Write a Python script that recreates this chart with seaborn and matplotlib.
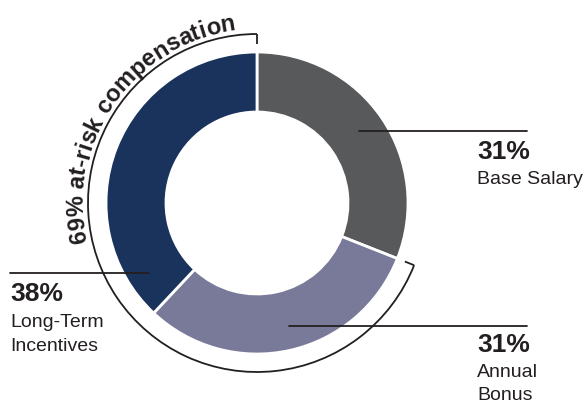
import numpy as np
import matplotlib
matplotlib.use("Agg")
import matplotlib.pyplot as plt
from matplotlib.patches import Arc
import seaborn as sns

# ---- data ----
categories = ["Base Salary", "Annual Bonus", "Long-Term Incentives"]
shares = [31, 31, 38]
pct_labels = ["31%", "31%", "38%"]
name_labels = ["Base Salary", "Annual\nBonus", "Long-Term\nIncentives"]
at_risk_label = "69% at-risk compensation"
colors = ["#58595B", "#797A99", "#1A335D"]

sns.set_theme(style="white")
plt.rcParams["font.family"] = ["Liberation Sans", "DejaVu Sans"]

W, H = 588, 405
fig = plt.figure(figsize=(W / 100, H / 100), dpi=100)
ax = fig.add_axes([0, 0, 1, 1])

cx, cy = 257, H - 203
R, r_in = 151, 91

ax.pie(shares, colors=colors, startangle=90, counterclock=False,
       radius=R, center=(cx, cy),
       wedgeprops=dict(width=R - r_in, edgecolor="white", linewidth=2))
ax.set_xlim(0, W)
ax.set_ylim(0, H)
ax.set_aspect("auto")
ax.axis("off")

ink = "#231F20"

# ---- bracket for at-risk share ----
at_risk = shares[1] + shares[2]
Rb = 169
t1 = 90
t2 = 90 + at_risk / 100 * 360
ax.add_patch(Arc((cx, cy), 2 * Rb, 2 * Rb, theta1=t1, theta2=t2,
                 color=ink, lw=1.3))
for th in (t1, t2):
    a = np.deg2rad(th)
    ax.plot([cx + Rb * np.cos(a), cx + (Rb - 10) * np.cos(a)],
            [cy + Rb * np.sin(a), cy + (Rb - 10) * np.sin(a)],
            color=ink, lw=1.3, solid_capstyle="butt")

# ---- curved text ----
fig.canvas.draw()
renderer = fig.canvas.get_renderer()
fs_curve = 17
def text_w(s):
    if not s:
        return 0.0
    t = ax.text(0, 0, s, fontsize=fs_curve, fontweight="bold")
    w = t.get_window_extent(renderer).width
    t.remove()
    return w

rt = 174
total = text_w(at_risk_label)
center_ang = np.deg2rad(145)
start_ang = center_ang + total / 2 / rt
for i, ch in enumerate(at_risk_label):
    s0 = text_w(at_risk_label[:i])
    s1 = text_w(at_risk_label[:i + 1])
    mid = (s0 + s1) / 2
    a = start_ang - mid / rt
    ax.text(cx + rt * np.cos(a), cy + rt * np.sin(a), ch,
            fontsize=fs_curve, fontweight="bold", color=ink,
            ha="center", va="baseline",
            rotation=np.rad2deg(a) - 90, rotation_mode="anchor")

# ---- leader lines and labels ----
fs_pct, fs_name = 19, 14
# Base Salary
ax.plot([359, 527], [H - 131, H - 131], color=ink, lw=1.3)
ax.text(477, H - 159, pct_labels[0], fontsize=fs_pct, fontweight="bold",
        color=ink, ha="left", va="baseline")
ax.text(477, H - 184, name_labels[0], fontsize=fs_name, color=ink,
        ha="left", va="baseline")
# Annual Bonus
ax.plot([289, 527], [H - 326, H - 326], color=ink, lw=1.3)
ax.text(477, H - 352, pct_labels[1], fontsize=fs_pct, fontweight="bold",
        color=ink, ha="left", va="baseline")
for j, line in enumerate(name_labels[1].split("\n")):
    ax.text(477, H - 377 - 23 * j, line, fontsize=fs_name, color=ink,
            ha="left", va="baseline")
# Long-Term Incentives
ax.plot([10, 149], [H - 273, H - 273], color=ink, lw=1.3)
ax.text(10, H - 301, pct_labels[2], fontsize=fs_pct, fontweight="bold",
        color=ink, ha="left", va="baseline")
for j, line in enumerate(name_labels[2].split("\n")):
    ax.text(10, H - 327 - 24 * j, line, fontsize=fs_name, color=ink,
            ha="left", va="baseline")

fig.savefig("out.png", dpi=100, facecolor="white")
